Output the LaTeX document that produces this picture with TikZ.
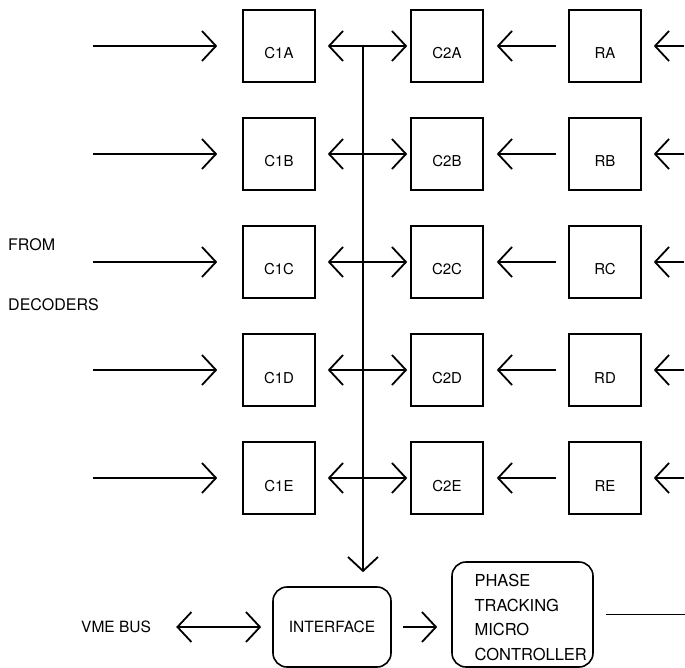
\documentclass[tikz,border=0pt]{standalone}
\usepackage{fontspec}
\setmainfont{TeX Gyre Heros}
\usetikzlibrary{arrows.meta,positioning,calc}

\begin{document}
\begin{tikzpicture}[
      x=1pt, y=1pt,
      font=\fontsize{15}{18}\selectfont,
      cell/.style={draw, line width=1.6pt, minimum width=72pt, minimum height=72pt,
                   inner sep=0pt, text height=28pt, text depth=2pt},
      unit/.style={draw, line width=1.6pt, rounded corners=14pt, inner sep=0pt},
      lbl/.style={inner sep=0pt, font=\fontsize{16}{18}\selectfont},
      tip/.tip={Straight Barb[length=14pt, width=30pt, line width=1.8pt]},
      arr/.style={-tip, line width=1.6pt},
      arr2/.style={tip-tip, line width=1.6pt}
    ]
    \useasboundingbox (0,0) rectangle (685,-668);

    % ---- correlator columns ----
    \node[cell] (c1a) at (279,-46) {C1A};
    \node[cell, below=34.4pt of c1a] (c1b) {C1B};
    \node[cell, below=34.4pt of c1b] (c1c) {C1C};
    \node[cell, below=34.4pt of c1c] (c1d) {C1D};
    \node[cell, below=34.4pt of c1d] (c1e) {C1E};

    \node[cell, right=94.4pt of c1a] (c2a) {C2A};
    \node[cell, right=94.4pt of c1b] (c2b) {C2B};
    \node[cell, right=94.4pt of c1c] (c2c) {C2C};
    \node[cell, right=94.4pt of c1d] (c2d) {C2D};
    \node[cell, right=94.4pt of c1e] (c2e) {C2E};

    \node[cell, right=84.4pt of c2a] (ra) {RA};
    \node[cell, right=84.4pt of c2b] (rb) {RB};
    \node[cell, right=84.4pt of c2c] (rc) {RC};
    \node[cell, right=84.4pt of c2d] (rd) {RD};
    \node[cell, right=84.4pt of c2e] (re) {RE};

    % ---- inputs from the decoders ----
    \node[lbl, anchor=west] (from) at (8,-245) {FROM};
    \node[lbl, anchor=west] (dec) at (8,-305) {DECODERS};
    \coordinate[left=149pt of c1a.west] (ina);
    \coordinate[left=149pt of c1b.west] (inb);
    \coordinate[left=149pt of c1c.west] (inc);
    \coordinate[left=149pt of c1d.west] (ind);
    \coordinate[left=149pt of c1e.west] (ine);
    \draw[arr, shorten >=25pt] (ina) -- (c1a);
    \draw[arr, shorten >=25pt] (inb) -- (c1b);
    \draw[arr, shorten >=25pt] (inc) -- (c1c);
    \draw[arr, shorten >=25pt] (ind) -- (c1d);
    \draw[arr, shorten >=25pt] (ine) -- (c1e);

    % ---- inputs on the right ----
    \coordinate[right=42pt of ra.east] (rina);
    \coordinate[right=42pt of rb.east] (rinb);
    \coordinate[right=42pt of rc.east] (rinc);
    \coordinate[right=42pt of rd.east] (rind);
    \coordinate[right=42pt of re.east] (rine);
    \draw[arr, shorten >=12pt] (rina) -- (ra);
    \draw[arr, shorten >=12pt] (rinb) -- (rb);
    \draw[arr, shorten >=12pt] (rinc) -- (rc);
    \draw[arr, shorten >=12pt] (rind) -- (rd);
    \draw[arr, shorten >=12pt] (rine) -- (re);

    \draw[arr, shorten <=12pt, shorten >=13pt] (ra) -- (c2a);
    \draw[arr, shorten <=12pt, shorten >=13pt] (rb) -- (c2b);
    \draw[arr, shorten <=12pt, shorten >=13pt] (rc) -- (c2c);
    \draw[arr, shorten <=12pt, shorten >=13pt] (rd) -- (c2d);
    \draw[arr, shorten <=12pt, shorten >=13pt] (re) -- (c2e);

    % ---- bus between the columns ----
    \draw[arr2, shorten <=12pt, shorten >=3pt] (c1a) -- (c2a);
    \draw[arr2, shorten <=12pt, shorten >=3pt] (c1b) -- (c2b);
    \draw[arr2, shorten <=12pt, shorten >=3pt] (c1c) -- (c2c);
    \draw[arr2, shorten <=12pt, shorten >=3pt] (c1d) -- (c2d);
    \draw[arr2, shorten <=12pt, shorten >=3pt] (c1e) -- (c2e);

    % ---- interface and controller ----
    \node[unit, minimum width=118pt, minimum height=80pt,
          font=\fontsize{15.5}{18}\selectfont] (iface) at (332,-627) {INTERFACE};
    \node[unit, minimum width=141pt, minimum height=105pt, text width=96pt, align=left,
          text height=18pt, font=\fontsize{16.5}{24.5}\selectfont] (ptmc) at (522.5,-614.5)
      {PHASE\\ TRACKING\\ MICRO\\ CONTROLLER};

    \coordinate (bus) at ($(c1a.east)!0.5!(c2a.west)$);
    \draw[arr, shorten >=14pt] (bus) -- (bus |- iface.north);

    \coordinate[left=96pt of iface.west] (vme);
    \node[lbl, left=25pt of vme, font=\fontsize{15.5}{18}\selectfont] (vmelbl) {VME BUS};
    \draw[arr2, shorten >=11pt] (vme) -- (iface);
    \draw[arr, shorten <=11pt, shorten >=14pt] (iface) -- (iface -| ptmc.west);

    \coordinate[right=92pt of ptmc.east] (ptout);
    \draw[line width=1.6pt, shorten <=12pt] (ptmc) -- (ptout);
  \end{tikzpicture}
\end{document}
